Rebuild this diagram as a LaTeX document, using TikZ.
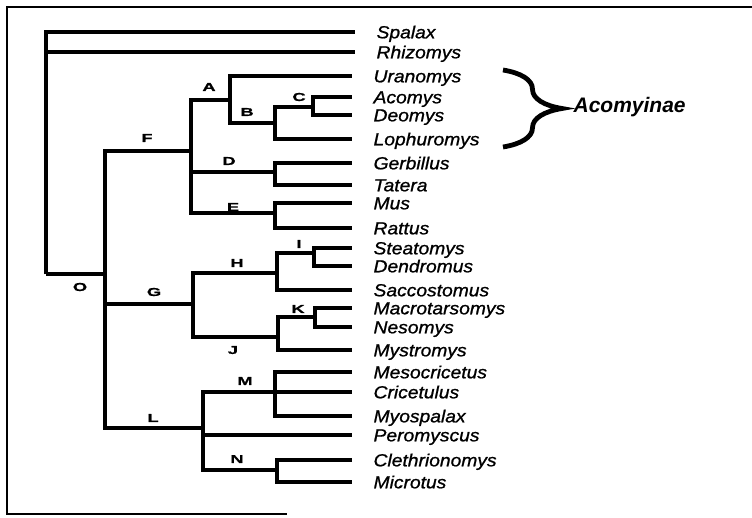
\documentclass[tikz,border=0pt]{standalone}
\usepackage{fontspec}
\setmainfont{Liberation Sans}
\newfontfamily\tagfont{Liberation Sans}[FakeStretch=1.6, FakeBold=1]
\newfontfamily\taxfont{Liberation Sans}[FakeStretch=1.1, FakeBold=1]
\usetikzlibrary{decorations.pathreplacing}
\begin{document}
\begin{tikzpicture}[x=1pt, y=-1pt, line width=3.2pt,
  taxon/.style={anchor=west, inner xsep=20pt, inner ysep=0pt, text height=14pt, text depth=1.4pt, font=\taxfont\itshape\fontsize{17.5}{18}\selectfont},
  clade/.style={inner sep=0pt, font=\tagfont\bfseries\fontsize{11.5}{12}\selectfont},
  boxline/.style={line width=2pt},
  bracket/.style={decorate, decoration={brace, amplitude=59pt}, line width=4.8pt}]
\useasboundingbox (0,0) rectangle (752,517);
% scanned frame
\draw[boxline] (752,7) -- (7,7) -- (7,514) -- (287,514);
% branch points
\coordinate (P_R) at (46,274);
\coordinate (P_O) at (105,274);
\coordinate (P_F) at (191,151);
\coordinate (P_G) at (193,304);
\coordinate (P_L) at (203,428);
\coordinate (P_A) at (230,100);
\coordinate (P_B) at (275,123);
\coordinate (P_C) at (313,107);
\coordinate (P_D) at (275,172);
\coordinate (P_E) at (275,213);
\coordinate (P_H) at (277,273);
\coordinate (P_I) at (314,253);
\coordinate (P_J) at (278,337);
\coordinate (P_K) at (315,317);
\coordinate (P_M) at (275,392);
\coordinate (P_N) at (277,470);
% root
\node[taxon] (P_Spalax) at (355,32) {Spalax};
\draw (P_R) |- (P_Spalax);
\node[taxon] (P_Rhizomys) at (355,52) {Rhizomys};
\draw (P_R) |- (P_Rhizomys);
\draw (P_R) |- (P_O);
\node[clade] (T_O) at (80,287) {O};
% F
\draw (P_O) |- (P_F);
\node[clade] (T_F) at (147,138) {F};
\draw (P_F) |- (P_A);
\node[clade] (T_A) at (209,87) {A};
\node[taxon] (P_Uranomys) at (352,76) {Uranomys};
\draw (P_A) |- (P_Uranomys);
\draw (P_A) |- (P_B);
\node[clade] (T_B) at (247,112) {B};
\draw (P_B) |- (P_C);
\node[clade] (T_C) at (299,97) {C};
\node[taxon] (P_Acomys) at (352,97) {Acomys};
\draw (P_C) |- (P_Acomys);
\node[taxon] (P_Deomys) at (352,115) {Deomys};
\draw (P_C) |- (P_Deomys);
\node[taxon] (P_Lophuromys) at (352,139) {Lophuromys};
\draw (P_B) |- (P_Lophuromys);
\draw (P_F) |- (P_D);
\node[clade] (T_D) at (229,161) {D};
\node[taxon] (P_Gerbillus) at (352,163) {Gerbillus};
\draw (P_D) |- (P_Gerbillus);
\node[taxon] (P_Tatera) at (352,185) {Tatera};
\draw (P_D) |- (P_Tatera);
\draw (P_F) |- (P_E);
\node[clade] (T_E) at (233,207) {E};
\node[taxon] (P_Mus) at (352,203) {Mus};
\draw (P_E) |- (P_Mus);
\node[taxon] (P_Rattus) at (352,228) {Rattus};
\draw (P_E) |- (P_Rattus);
% G
\draw (P_O) |- (P_G);
\node[clade] (T_G) at (154,292) {G};
\draw (P_G) |- (P_H);
\node[clade] (T_H) at (237,263) {H};
\draw (P_H) |- (P_I);
\node[clade] (T_I) at (299,244) {I};
\node[taxon] (P_Steatomys) at (352,248) {Steatomys};
\draw (P_I) |- (P_Steatomys);
\node[taxon] (P_Dendromus) at (352,266) {Dendromus};
\draw (P_I) |- (P_Dendromus);
\node[taxon] (P_Saccostomus) at (352,290) {Saccostomus};
\draw (P_H) |- (P_Saccostomus);
\draw (P_G) |- (P_J);
\node[clade] (T_J) at (233,350) {J};
\draw (P_J) |- (P_K);
\node[clade] (T_K) at (298,309) {K};
\node[taxon] (P_Macrotarsomys) at (352,308) {Macrotarsomys};
\draw (P_K) |- (P_Macrotarsomys);
\node[taxon] (P_Nesomys) at (352,327) {Nesomys};
\draw (P_K) |- (P_Nesomys);
\node[taxon] (P_Mystromys) at (352,350) {Mystromys};
\draw (P_J) |- (P_Mystromys);
% L
\draw (P_O) |- (P_L);
\node[clade] (T_L) at (153,418) {L};
\draw (P_L) |- (P_M);
\node[clade] (T_M) at (245,381) {M};
\node[taxon] (P_Mesocricetus) at (352,372) {Mesocricetus};
\draw (P_M) |- (P_Mesocricetus);
\node[taxon] (P_Cricetulus) at (352,392) {Cricetulus};
\draw (P_M) |- (P_Cricetulus);
\node[taxon] (P_Myospalax) at (352,416) {Myospalax};
\draw (P_M) |- (P_Myospalax);
\node[taxon] (P_Peromyscus) at (352,435) {Peromyscus};
\draw (P_L) |- (P_Peromyscus);
\draw (P_L) |- (P_N);
\node[clade] (T_N) at (237,459) {N};
\node[taxon] (P_Clethrionomys) at (352,460) {Clethrionomys};
\draw (P_N) |- (P_Clethrionomys);
\node[taxon] (P_Microtus) at (352,482) {Microtus};
\draw (P_N) |- (P_Microtus);
% subfamily
\coordinate (B_top) at (503,70);
\coordinate (B_bot) at (503,147);
\draw[bracket] (B_top) -- (B_bot);
\node[anchor=west, inner sep=0pt, font=\bfseries\itshape\fontsize{21}{21}\selectfont] (P_Acomyinae) at (572,107) {Acomyinae};
\end{tikzpicture}
\end{document}
